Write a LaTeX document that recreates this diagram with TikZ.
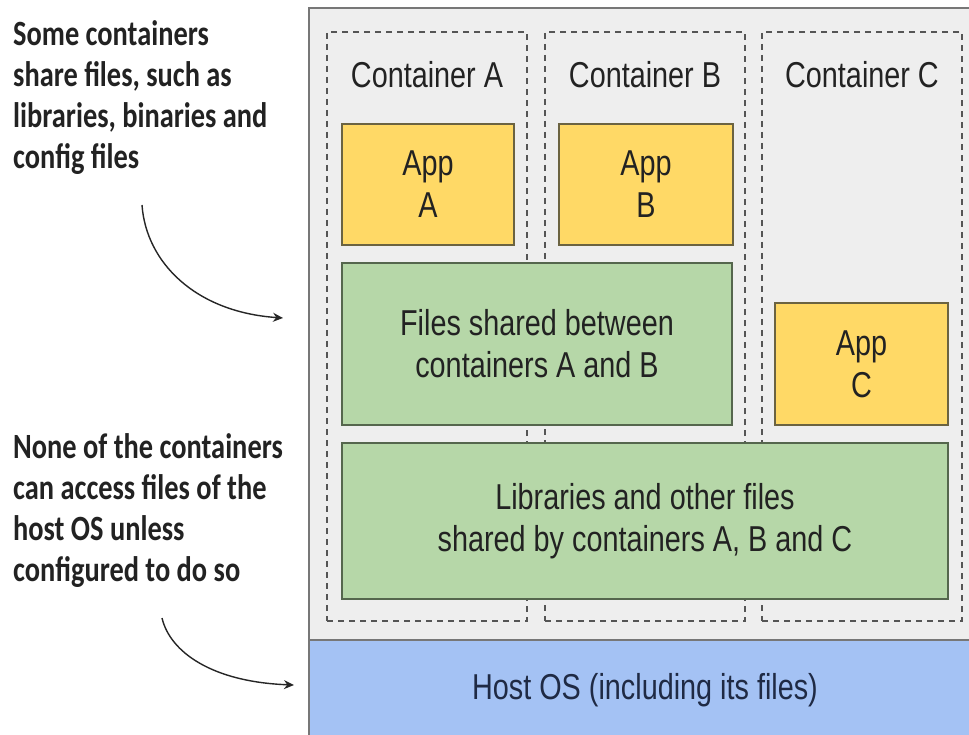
\documentclass[tikz,border=0pt]{standalone}
\usepackage{fontspec}
\setmainfont{Liberation Sans}[FakeStretch=0.8]
\newfontfamily\notefont{Carlito}[FakeStretch=0.8]
\usetikzlibrary{arrows.meta}
\definecolor{outerfill}{HTML}{EEEEEE}
\definecolor{outerline}{HTML}{777777}
\definecolor{appfill}{HTML}{FFD966}
\definecolor{appline}{HTML}{6B6341}
\definecolor{filefill}{HTML}{B6D7A8}
\definecolor{fileline}{HTML}{55664D}
\definecolor{hostfill}{HTML}{A4C2F4}
\definecolor{hosttext}{HTML}{1F2A44}
\definecolor{dashline}{HTML}{555555}
\definecolor{txt}{HTML}{222222}
\tikzset{
  x=1pt, y=-1pt,
  contbox/.style={draw=dashline, dashed, dash pattern=on 6pt off 5pt, line width=1.2pt, inner sep=0pt},
  contlabel/.style={font=\fontsize{36}{40}\selectfont, text=txt, inner sep=0pt},
  appbox/.style={draw=appline, fill=appfill, line width=1.3pt, inner sep=0pt, align=center,
    font=\fontsize{36}{42}\selectfont, text=txt},
  filebox/.style={draw=fileline, fill=filefill, line width=1.3pt, inner sep=0pt, align=center,
    font=\fontsize{36}{42}\selectfont, text=txt},
  hostbox/.style={fill=hostfill, inner sep=0pt, font=\fontsize{36}{40}\selectfont, text=hosttext},
  note/.style={align=left, inner sep=0pt, anchor=north west, text=txt,
    font=\notefont\bfseries\fontsize{35.5}{41}\selectfont},
  pointer/.style={line width=1.4pt, -{Stealth[length=10pt,width=9pt]}, draw=black!85},
}
\begin{document}
\begin{tikzpicture}
\useasboundingbox (0,0) rectangle (969,735);
\clip (0,0) rectangle (969,735);
\fill[white] (0,0) rectangle (969,735);
% outer machine box
\draw[fill=outerfill, draw=outerline, line width=1.5pt] (309,8) rectangle (990,760);
% host OS
\node[hostbox, minimum width=682pt, minimum height=120pt] (host) at (650,700) {};
\draw[draw=outerline, line width=1.5pt] (309,640) -- (990,640);
\draw[draw=outerline, line width=1.5pt] (309,640) -- (309,760);
\node[hostbox, fill=none] (hosttxt) at (645,690) {Host OS (including its files)};
% containers
\node[contbox, minimum width=200pt, minimum height=589pt] (ca) at (427,326.5) {};
\node[contbox, minimum width=200pt, minimum height=589pt] (cb) at (645,326.5) {};
\node[contbox, minimum width=200pt, minimum height=589pt] (cc) at (862,326.5) {};
\node[contlabel] (la) at (427,75) {Container A};
\node[contlabel] (lb) at (645,75) {Container B};
\node[contlabel] (lc) at (862,75) {Container C};
% apps
\node[appbox, minimum width=172pt, minimum height=121pt] (appa) at (428,184.5) {App\\A};
\node[appbox, minimum width=174pt, minimum height=121pt] (appb) at (646,184.5) {App\\B};
\node[appbox, minimum width=173pt, minimum height=122pt] (appc) at (861.5,364) {App\\C};
% shared files
\node[filebox, minimum width=390pt, minimum height=162pt] (fab) at (537,344) {Files shared between\\containers A and B};
\node[filebox, minimum width=606pt, minimum height=156pt] (lib) at (645,521) {Libraries and other files\\shared by containers A, B and C};
% notes
\node[note] (n1) at (13,20) {Some containers\\share files, such as\\libraries, binaries and\\config files};
\node[note] (n2) at (13,433) {None of the containers\\can access files of the\\host OS unless\\configured to do so};
\coordinate (a1s) at (142,205);
\coordinate (a1e) at (283,318);
\coordinate (a2s) at (162,618);
\coordinate (a2e) at (294,685);
\draw[pointer] (a1s) .. controls (146,262) and (195,312) .. (a1e);
\draw[pointer] (a2s) .. controls (170,652) and (212,682) .. (a2e);
\end{tikzpicture}
\end{document}
